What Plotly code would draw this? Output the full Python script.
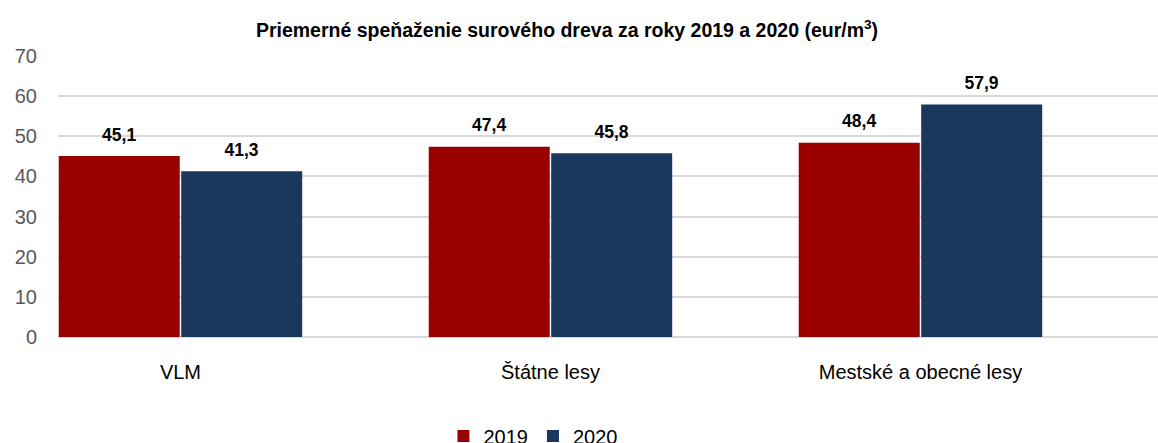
import plotly.graph_objects as go

categories = ["VLM", "Štátne lesy", "Mestské a obecné lesy"]
series_names = ["2019", "2020"]
values_2019 = [45.1, 47.4, 48.4]
values_2020 = [41.3, 45.8, 57.9]
y_ticks = [0, 10, 20, 30, 40, 50, 60, 70]

colors = ["#990000", "#1A375E"]
narrow = "Liberation Sans Narrow, Arial Narrow, Liberation Sans, Arial"

fig = go.Figure()
for name, vals, col in zip(series_names, [values_2019, values_2020], colors):
    fig.add_trace(go.Bar(
        name=name, x=categories, y=vals, marker_color=col,
        marker_line_width=0,
        text=[f"{v:.1f}".replace(".", ",") for v in vals],
        textposition="outside",
        textfont=dict(family=narrow, size=8, color="#000000"),
        texttemplate="<span style='font-size:17.5px'><b>%{text}</b></span><br> ",
        cliponaxis=False,
    ))

fig.update_layout(
    width=1158, height=443,
    margin=dict(l=58, r=0, t=56, b=106, autoexpand=False),
    paper_bgcolor="white", plot_bgcolor="white",
    barmode="group", bargap=0.338, bargroupgap=0.012,
    title=dict(
        text="<b>Priemerné speňaženie surového dreva za roky 2019 a 2020 (eur/m<sup>3</sup>)</b>",
        x=567 / 1158, xanchor="center", y=1 - 30 / 443, yanchor="middle",
        font=dict(family=narrow, size=19.5, color="#000000"),
    ),
    showlegend=True,
    legend=dict(
        orientation="h", x=500 / 1158, xanchor="center", xref="paper",
        y=7 / 443, yref="container", yanchor="middle",
        font=dict(family=narrow, size=20, color="#000000"),
        itemwidth=30, tracegroupgap=0,
    ),
)
fig.update_xaxes(
    range=[-0.331, 2.642], showgrid=False, showline=False, zeroline=False,
    tickfont=dict(family="Liberation Sans, Arial", size=20, color="#000000"),
    ticklabelstandoff=21,
)
fig.update_yaxes(
    range=[0, 70], tickvals=y_ticks, showgrid=True, gridcolor="#D9D9D9", gridwidth=1.5,
    zeroline=True, zerolinecolor="#D9D9D9", zerolinewidth=1.5, showline=False,
    tickfont=dict(family="Liberation Sans, Arial", size=20, color="#595959"),
    ticklabelstandoff=20,
)

fig.write_html("out.html", config={"displayModeBar": False},
               post_script="document.body.style.margin='0px';")
